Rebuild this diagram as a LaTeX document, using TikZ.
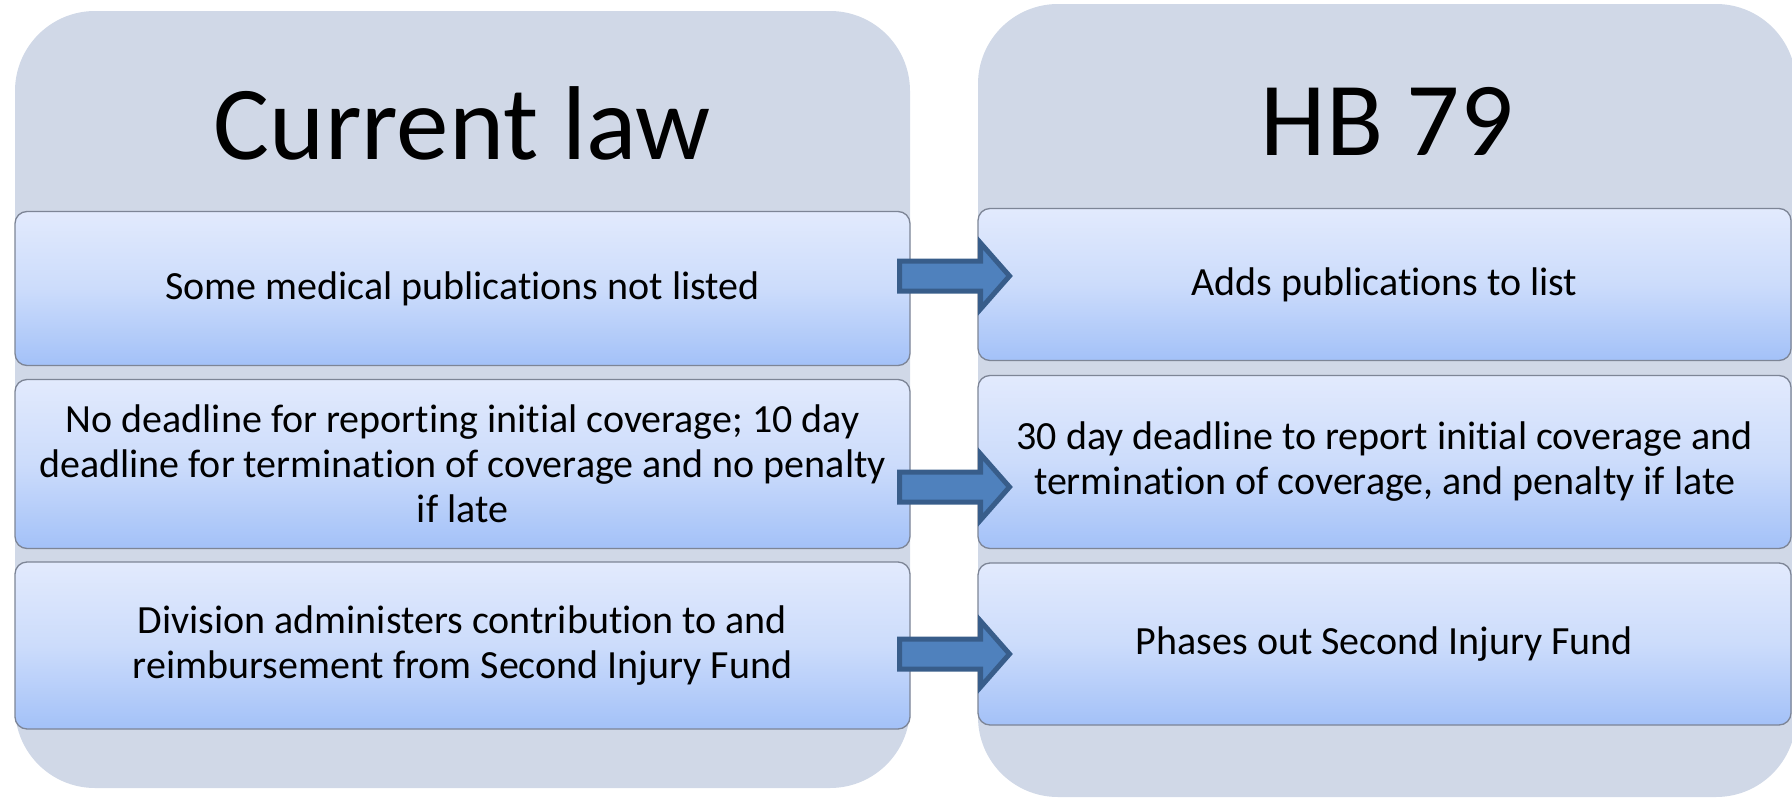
\documentclass[tikz,border=0pt]{standalone}
\usepackage{fontspec}
\setmainfont{Carlito}[Ligatures=NoCommon]
\definecolor{panelfill}{RGB}{208,216,231}
\definecolor{boxtop}{RGB}{226,234,253}
\definecolor{boxmid}{RGB}{204,220,251}
\definecolor{boxbot}{RGB}{163,193,248}
\definecolor{boxline}{RGB}{125,133,150}
\definecolor{arrowfill}{RGB}{79,129,189}
\definecolor{arrowline}{RGB}{56,93,138}
\begin{document}
\begin{tikzpicture}[x=1pt,y=-1pt,
  panel/.style={fill=panelfill, rounded corners=80pt},
  itembox/.style={draw=boxline, line width=1.3pt, rounded corners=12pt,
    top color=boxtop, bottom color=boxbot, middle color=boxmid,
    align=center, inner sep=0pt, font=\fontsize{40}{45}\selectfont},
  leftbox/.style={itembox, minimum width=895pt},
  rightbox/.style={itembox, minimum width=813pt},
  titletext/.style={anchor=base, font=\fontsize{105}{112}\selectfont},
  blockarrow/.style={draw=arrowline, fill=arrowfill, line width=5pt, line join=miter}]
\useasboundingbox (0,0) rectangle (1792,798);
% panels
\fill[panel] (15,11) rectangle (910,788);
\fill[panel] (978,4) rectangle (1796,797);
% titles
\node[titletext] (t1) at (462.5,159) {Current law};
\node[titletext] (t2) at (1387,155) {HB 79};
% left boxes
\node[leftbox, minimum height=154pt] (l1) at (462.5,288.5) {Some medical publications not listed};
\node[leftbox, minimum height=169pt] (l2) at (462.5,464) {No deadline for reporting initial coverage; 10 day\\deadline for termination of coverage and no penalty\\if late};
\node[leftbox, minimum height=167pt] (l3) at (462.5,645.5) {Division administers contribution to and\\reimbursement from Second Injury Fund};
% right boxes
\node[rightbox, minimum height=152pt] (r1) at (1384.5,284.5) {Adds publications to list};
\node[rightbox, minimum height=173pt] (r2) at (1384.5,462) {30 day deadline to report initial coverage and\\termination of coverage, and penalty if late};
\node[rightbox, minimum height=162pt] (r3) at (1384.5,644) {Phases out Second Injury Fund};
% arrows
\coordinate (a1) at (899.5,276);
\coordinate (a2) at (899.5,487);
\coordinate (a3) at (899.5,654);
\foreach \a in {a1,a2,a3}{
  \draw[blockarrow] (\a) ++(0,-15) -- ++(81,0) -- ++(0,-18) -- ++(29,33) -- ++(-29,33) -- ++(0,-18) -- ++(-81,0) -- cycle;
}
\end{tikzpicture}
\end{document}
